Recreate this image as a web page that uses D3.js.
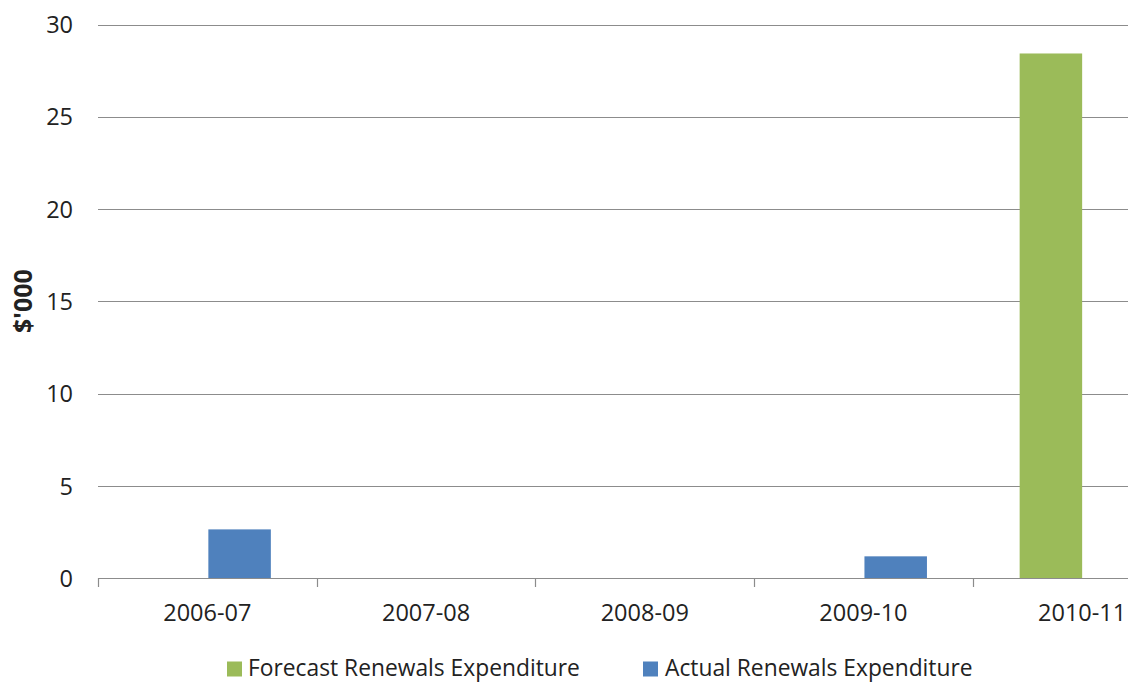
<!DOCTYPE html>
<html><head><meta charset="utf-8">
<script src="https://cdn.jsdelivr.net/npm/d3@7"></script>
<style>body{margin:0;background:#fff}svg{display:block}text{font-family:"Open Sans",Lato,sans-serif;fill:#222}</style>
</head><body><svg id="c" width="1135" height="682"></svg>
<script>
const categories = ["2006-07","2007-08","2008-09","2009-10","2010-11"];
const seriesNames = ["Forecast Renewals Expenditure","Actual Renewals Expenditure"];
const forecast = [0,0,0,0,28.43];
const actual = [2.65,0,0,1.19,0];
const yTicks = [0,5,10,15,20,25,30];
const colors = ["#9BBB59","#4F81BD"];

const svg = d3.select("#c");
const plotLeft = 98, plotTop = 24.5, plotBottom = 578.3, bandW = 218.7, clipRight = 1128;
const x = d3.scaleBand().domain(categories).range([plotLeft, plotLeft + bandW*categories.length]).paddingInner(0).paddingOuter(0);
const y = d3.scaleLinear().domain([0,30]).range([plotBottom, plotTop]);
const barW = 62.5;

svg.append("defs").append("clipPath").attr("id","clip").append("rect")
  .attr("x",0).attr("y",0).attr("width",clipRight).attr("height",682);
const g = svg.append("g").attr("clip-path","url(#clip)");

// gridlines
g.selectAll("line.grid").data(yTicks.filter(d=>d>0)).enter().append("line")
  .attr("x1",plotLeft).attr("x2",clipRight).attr("y1",d=>Math.round(y(d))+0.5).attr("y2",d=>Math.round(y(d))+0.5)
  .attr("stroke","#8c8c8c").attr("stroke-width",1.2);

// bars
const data = categories.map((c,i)=>({c, f:forecast[i], a:actual[i]}));
g.selectAll("rect.f").data(data.filter(d=>d.f>0)).enter().append("rect")
  .attr("x",d=>x(d.c)+x.bandwidth()/2-barW).attr("width",barW)
  .attr("y",d=>y(d.f)).attr("height",d=>y(0)-y(d.f)).attr("fill",colors[0]);
g.selectAll("rect.a").data(data.filter(d=>d.a>0)).enter().append("rect")
  .attr("x",d=>x(d.c)+x.bandwidth()/2+1).attr("width",barW)
  .attr("y",d=>y(d.a)).attr("height",d=>y(0)-y(d.a)).attr("fill",colors[1]);

// x axis
g.append("line").attr("x1",plotLeft).attr("x2",clipRight).attr("y1",Math.round(y(0))+0.5).attr("y2",Math.round(y(0))+0.5)
  .attr("stroke","#8c8c8c").attr("stroke-width",1.2);
const bounds = categories.map(c=>x(c));
g.selectAll("line.tick").data(bounds).enter().append("line")
  .attr("x1",d=>Math.round(d)+0.5).attr("x2",d=>Math.round(d)+0.5)
  .attr("y1",Math.round(y(0))).attr("y2",Math.round(y(0))+9)
  .attr("stroke","#8c8c8c").attr("stroke-width",1.2);
svg.selectAll("text.xl").data(categories).enter().append("text")
  .attr("x",d=>x(d)+x.bandwidth()/2).attr("y",621).attr("text-anchor","middle")
  .attr("font-size",23.5).text(d=>d);

// y labels
svg.selectAll("text.yl").data(yTicks).enter().append("text")
  .attr("x",73).attr("y",d=>y(d)+8.5).attr("text-anchor","end")
  .attr("font-size",23.5).text(d=>d);

// y title
svg.append("text").attr("transform","translate(32,301) rotate(-90)")
  .attr("text-anchor","middle").attr("font-size",25).attr("font-weight","bold").text("$'000");

// legend
const legX = [227, 643];
const legTextX = [248, 665];
seriesNames.forEach((n,i)=>{
  svg.append("rect").attr("x",legX[i]).attr("y",661.5).attr("width",15).attr("height",15).attr("fill",colors[i]);
  svg.append("text").attr("x",legTextX[i]).attr("y",675.5).attr("font-size",22.8).text(n);
});
</script></body></html>
